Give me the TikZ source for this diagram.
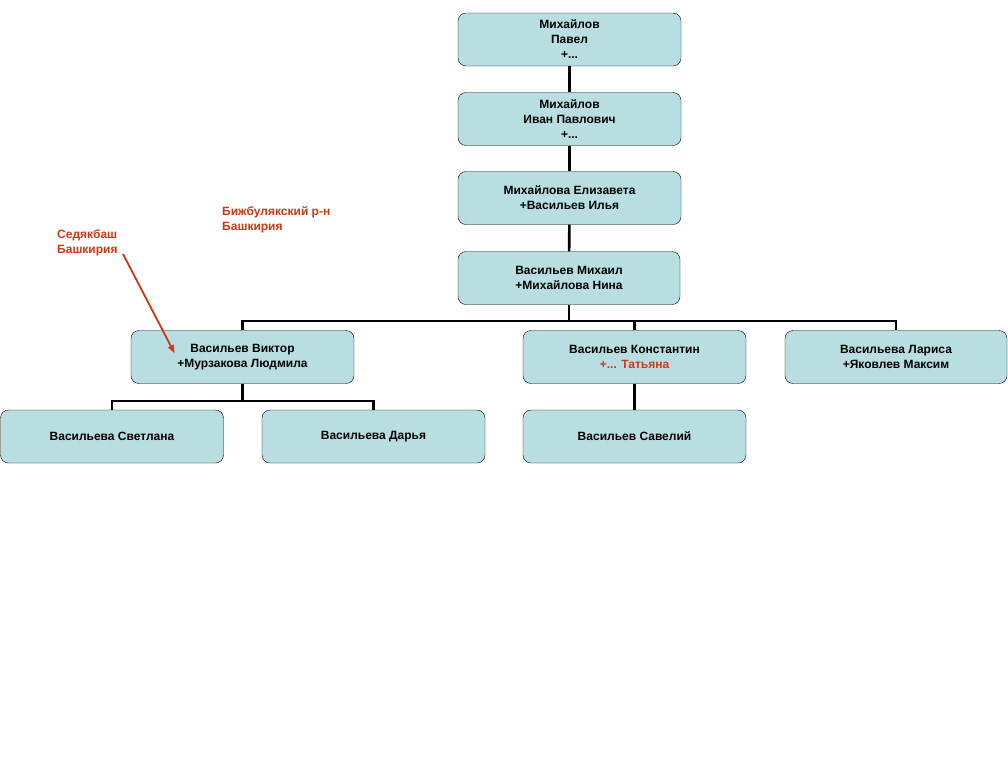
\documentclass[tikz,border=0pt]{standalone}
\usepackage{fontspec}
\setmainfont{Liberation Sans}
\usetikzlibrary{positioning, arrows.meta}
\definecolor{boxfill}{RGB}{184,222,225}
\definecolor{note}{RGB}{204,56,20}

\begin{document}
\begin{tikzpicture}[x=1pt, y=-1pt, font=\bfseries\fontsize{12}{15}\selectfont]
  \tikzset{
    person/.style={draw=black, fill=boxfill, rounded corners=8pt, align=center,
      minimum width=223pt, minimum height=53pt, inner sep=2pt},
    tree/.style={line width=2.6pt, black},
    place/.style={note, align=left, anchor=north west, inner sep=0pt},
    pointer/.style={-{Latex[length=9pt, width=7pt]}, note, line width=1.8pt}
  }
  \useasboundingbox (0,0) rectangle (1008,756);

  % Предки
  \node[person] (pavel) at (569.5,39.5) {Михайлов\\Павел\\+...};
  \node[person] (ivan) at (569.5,119) {Михайлов\\Иван Павлович\\+...};
  \node[person] (elizaveta) at (569.5,198) {Михайлова Елизавета\\+Васильев Илья};
  \node[person, minimum width=222pt] (mikhail) at (569,278) {Васильев Михаил\\+Михайлова Нина};

  % Дети
  \node[person] (viktor) at (242.5,357) {Васильев Виктор\\+Мурзакова Людмила};
  \node[person] (konstantin) at (634.5,357) {Васильев Константин\\{\color{note}+... Татьяна}};
  \node[person, minimum width=222pt] (larisa) at (896,357) {Васильева Лариса\\+Яковлев Максим};

  % Внуки
  \node[person] (svetlana) at (112,436.5) {Васильева Светлана};
  \node[person] (darya) at (373.5,436.5) {Васильева Дарья};
  \node[person] (saveliy) at (634.5,436.5) {Васильев Савелий};

  % Линии
  \draw[tree] (pavel) -- (ivan);
  \draw[tree] (ivan) -- (elizaveta);
  \draw[tree] (elizaveta) -- (mikhail);
  \coordinate (bar1) at (569,321);
  \draw[tree] (mikhail.south) -- (bar1);
  \draw[tree] (viktor.north) |- (bar1) -| (larisa.north);
  \draw[tree] (konstantin.north) -- (konstantin.north |- bar1);
  \coordinate (bar2) at (242.5,401);
  \draw[tree] (viktor.south) -- (bar2);
  \draw[tree] (svetlana.north) |- (bar2) -| (darya.north);
  \draw[tree] (konstantin) -- (saveliy);

  % Места
  \node[place] (sedyakbash) at (57,229) {Седякбаш\\Башкирия};
  \node[place] (bizhbulyak) at (222,206) {Бижбулякский р-н\\Башкирия};
  \coordinate (arrowstart) at (123,254);
  \coordinate (arrowtip) at (175,354);
  \draw[pointer] (arrowstart) -- (arrowtip);
\end{tikzpicture}
\end{document}
